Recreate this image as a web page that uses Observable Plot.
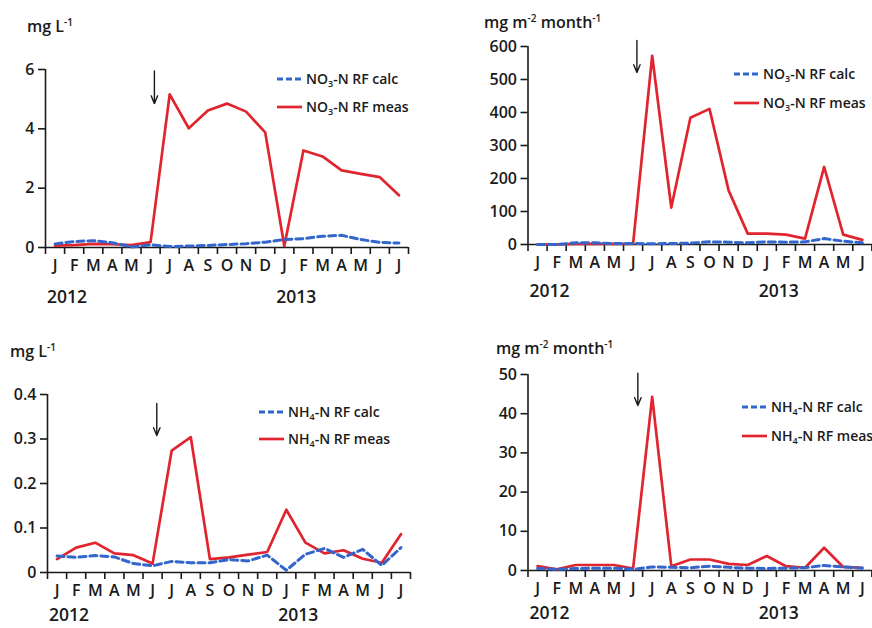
<!DOCTYPE html>
<html><head><meta charset="utf-8">
<script src="https://cdn.jsdelivr.net/npm/d3@7"></script>
<script src="https://cdn.jsdelivr.net/npm/@observablehq/plot@0.6"></script>
<style>
body{margin:0;background:#fff;}
#wrap{position:relative;width:872px;height:628px;overflow:hidden;font-family:"Open Sans",sans-serif;color:#1a1a1a;background:#fff;}
.panel{position:absolute;}
.panel svg{display:block;overflow:visible;max-width:none !important;height:auto;}
.abs{position:absolute;white-space:nowrap;line-height:1;}
.unit{font-size:16px;font-weight:600;transform:translateY(-50%);}
.unit sup{font-size:10px;vertical-align:6px;line-height:0;}
.leg{font-size:14px;font-weight:600;display:flex;align-items:center;transform:translateY(-50%);}
.leg sub{font-size:9px;vertical-align:-3px;line-height:0;}
.leg svg{margin-right:4px;}
</style></head>
<body><div id="wrap"></div>
<script>
// ---- data ----
const months = ["J","F","M","A","M","J","J","A","S","O","N","D","J","F","M","A","M","J","J"];
const years = [{label:"2012", at:0}, {label:"2013", at:12}];

// NO3-N concentration (mg L-1), Jan 2012 - Jul 2013
const no3ConcCalc = [0.12,0.20,0.23,0.16,0.02,0.09,0.03,0.05,0.07,0.10,0.13,0.18,0.27,0.30,0.38,0.41,0.27,0.17,0.15];
const no3ConcMeas = [0.06,0.08,0.12,0.11,0.08,0.18,5.16,4.02,4.62,4.85,4.58,3.88,0.05,3.27,3.07,2.60,2.48,2.37,1.76];
// NO3-N flux (mg m-2 month-1), Jan 2012 - Jun 2013
const no3FluxCalc = [0,0,5,5,3,3,2,3,4,8,7,5,8,7,8,18,10,5];
const no3FluxMeas = [0,0,2,2,2,2,572,112,384,411,164,33,33,30,18,235,30,14];
// NH4-N concentration (mg L-1), Jan 2012 - Jul 2013
const nh4ConcCalc = [0.037,0.034,0.038,0.035,0.020,0.015,0.025,0.022,0.022,0.029,0.026,0.039,0.005,0.041,0.054,0.034,0.052,0.016,0.056];
const nh4ConcMeas = [0.030,0.056,0.067,0.043,0.039,0.020,0.274,0.304,0.030,0.034,0.040,0.046,0.141,0.067,0.043,0.050,0.031,0.022,0.086];
// NH4-N flux (mg m-2 month-1), Jan 2012 - Jun 2013
const nh4FluxCalc = [0.5,0.3,0.5,0.6,0.6,0.3,0.9,0.8,0.7,1.1,0.8,0.6,0.5,0.6,0.7,1.3,0.9,0.6];
const nh4FluxMeas = [1.1,0.3,1.4,1.4,1.4,0.5,44.3,1.1,2.8,2.8,1.7,1.4,3.7,1.1,0.7,5.8,0.9,0.7];

// application arrow annotations (x in month index, y in data units)
const arrowNo3Conc = {x:5.2, y1:5.95, y2:4.85};
const arrowNo3Flux = {x:5.2, y1:618, y2:521};
const arrowNh4Conc = {x:5.22, y1:0.380, y2:0.308};
const arrowNh4Flux = {x:5.25, y1:50.3, y2:42.1};

const RED = "#e0252f", BLUE = "#3366cc", INK = "#1a1a1a";

function panel(o) {
  const n = months.length;
  return Plot.plot({
    width: o.width, height: o.height,
    marginLeft: o.mL, marginRight: o.mR, marginTop: o.mT, marginBottom: o.mB,
    x: {domain: [-0.5, n - 0.5], label: null},
    y: {domain: o.yDomain, label: null},
    style: {fontFamily: "'Open Sans', sans-serif", fontSize: "16px", fontWeight: 600, color: INK, overflow: "visible", background: "transparent", maxWidth: "none"},
    marks: [
      Plot.ruleY([o.yDomain[0]], {stroke: INK, strokeWidth: 1.6}),
      Plot.ruleX([-0.5], {stroke: INK, strokeWidth: 1.6}),
      Plot.axisX({ticks: d3.range(-0.5, n, 1), tickSize: 7, tickFormat: () => "", strokeWidth: 1.6, stroke: INK}),
      Plot.axisX({ticks: d3.range(o.meas.length), tickSize: 0, tickPadding: 12, tickFormat: i => months[i], fontSize: 16}),
      Plot.axisY({ticks: o.yTicks, tickSize: 7, tickPadding: 4, tickFormat: d => String(d), strokeWidth: 1.6, stroke: INK}),
      Plot.lineY(o.meas, {x: (d, i) => i, y: d => d, stroke: RED, strokeWidth: 2.7}),
      Plot.lineY(o.calc, {x: (d, i) => i, y: d => d, stroke: BLUE, strokeWidth: 3, strokeDasharray: "7,4"}),
      Plot.arrow([o.arrow], {x1: "x", x2: "x", y1: "y1", y2: "y2", stroke: INK, strokeWidth: 1.4, headLength: 9, headAngle: 45}),
      Plot.text(years, {x: "at", text: "label", frameAnchor: "bottom", dy: o.yearDy, dx: -8, textAnchor: "start", fontSize: 17.5, fill: INK})
    ]
  });
}

const wrap = document.getElementById("wrap");
function place(node, left, top, w) {
  const d = document.createElement("div");
  d.className = "panel";
  d.style.left = left + "px"; d.style.top = top + "px"; d.style.width = w + "px";
  node.style.maxWidth = "none";
  node.style.width = w + "px";
  d.appendChild(node);
  wrap.appendChild(d);
}
function html(cls, left, top, inner) {
  const d = document.createElement("div");
  d.className = "abs " + cls;
  d.style.left = left + "px"; d.style.top = top + "px";
  d.innerHTML = inner;
  wrap.appendChild(d);
}
function swatch(color, dashed) {
  return `<svg width="25" height="6"><line x1="0" x2="25" y1="3" y2="3" stroke="${color}" stroke-width="${dashed ? 3 : 2.7}" ${dashed ? 'stroke-dasharray="6,3"' : ''}/></svg>`;
}
function legend(left, yCalc, yMeas, ion) {
  html("leg", left, yCalc, swatch(BLUE, true) + `<span>${ion}-N RF calc</span>`);
  html("leg", left, yMeas, swatch(RED, false) + `<span>${ion}-N RF meas</span>`);
}

// top-left: NO3 concentration
place(panel({calc: no3ConcCalc, meas: no3ConcMeas, yDomain: [0, 6], yTicks: [0, 2, 4, 6], arrow: arrowNo3Conc,
  width: 436, height: 314, mL: 45, mR: 28, mT: 69, mB: 67, yearDy: 55}), 0, 0, 436);
// top-right: NO3 flux
place(panel({calc: no3FluxCalc, meas: no3FluxMeas, yDomain: [0, 600], yTicks: [0, 100, 200, 300, 400, 500, 600], arrow: arrowNo3Flux,
  width: 480, height: 314, mL: 91.5, mR: 25.5, mT: 46, mB: 70, yearDy: 52}), 436, 0, 480);
// bottom-left: NH4 concentration
place(panel({calc: nh4ConcCalc, meas: nh4ConcMeas, yDomain: [0, 0.4], yTicks: [0, 0.1, 0.2, 0.3, 0.4], arrow: arrowNh4Conc,
  width: 436, height: 314, mL: 47, mR: 26, mT: 80, mB: 56, yearDy: 48}), 0, 314, 436);
// bottom-right: NH4 flux
place(panel({calc: nh4FluxCalc, meas: nh4FluxMeas, yDomain: [0, 50], yTicks: [0, 10, 20, 30, 40, 50], arrow: arrowNh4Flux,
  width: 480, height: 314, mL: 91.5, mR: 25.5, mT: 60, mB: 58, yearDy: 48}), 436, 314, 480);

// unit labels
html("unit", 27, 26, "mg L<sup>-1</sup>");
html("unit", 484, 22, "mg m<sup>-2</sup> month<sup>-1</sup>");
html("unit", 10, 351, "mg L<sup>-1</sup>");
html("unit", 496, 348, "mg m<sup>-2</sup> month<sup>-1</sup>");

// legends
legend(277, 79, 107, "NO<sub>3</sub>");
legend(734, 74, 103, "NO<sub>3</sub>");
legend(259, 412, 439, "NH<sub>4</sub>");
legend(742, 407, 436, "NH<sub>4</sub>");
</script></body></html>
